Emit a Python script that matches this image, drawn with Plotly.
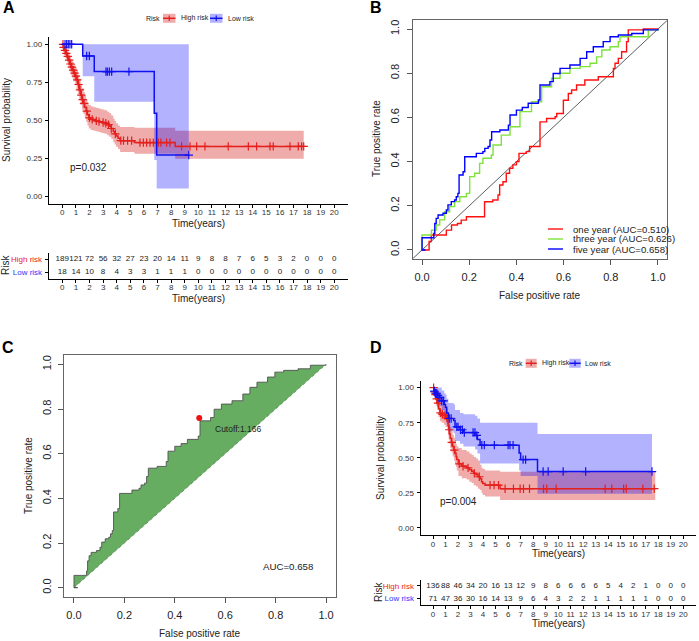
import numpy as np
import plotly.graph_objects as go

W, H = 699, 641
FONT = "Liberation Sans, Arial, sans-serif"

# ---------------- DATA ----------------
years = list(range(0, 21))

# Panel A: Kaplan-Meier (training set)
a_high_t = [0, 0.08, 0.15, 0.25, 0.35, 0.45, 0.55, 0.65, 0.75, 0.85, 0.95, 1.05, 1.15, 1.25, 1.35, 1.45,
            1.55, 1.65, 1.75, 1.85, 1.95, 2.1, 2.3, 2.5, 2.7, 2.9, 3.1, 3.3, 3.45, 3.6, 3.75, 3.85, 3.95,
            4.1, 4.25, 5.3, 8.3]
a_high_s = [1.0, 0.98, 0.96, 0.94, 0.92, 0.895, 0.87, 0.85, 0.83, 0.81, 0.79, 0.765, 0.735, 0.70, 0.665,
            0.635, 0.61, 0.585, 0.56, 0.535, 0.515, 0.505, 0.5, 0.495, 0.49, 0.485, 0.48, 0.47, 0.46,
            0.445, 0.425, 0.41, 0.395, 0.38, 0.365, 0.352, 0.327]
a_high_up = [1.0, 1.0, 0.99, 0.975, 0.96, 0.94, 0.92, 0.9, 0.885, 0.87, 0.85, 0.83, 0.8, 0.77, 0.74, 0.71,
             0.685, 0.66, 0.64, 0.615, 0.6, 0.59, 0.585, 0.58, 0.575, 0.57, 0.565, 0.555, 0.545, 0.53,
             0.51, 0.495, 0.48, 0.465, 0.455, 0.45, 0.43]
a_high_lo = [1.0, 0.96, 0.93, 0.905, 0.88, 0.85, 0.82, 0.8, 0.775, 0.755, 0.73, 0.705, 0.67, 0.635, 0.6,
             0.57, 0.54, 0.515, 0.49, 0.465, 0.445, 0.435, 0.43, 0.425, 0.42, 0.415, 0.41, 0.4, 0.39,
             0.375, 0.355, 0.34, 0.325, 0.31, 0.29, 0.278, 0.245]
a_high_end = 17.75
a_high_cens = [0.05, 0.1, 0.2, 0.3, 0.4, 0.5, 0.6, 0.7, 0.8, 0.9, 1.0, 1.1, 1.2, 1.3, 1.4, 1.5, 1.6, 1.8,
               2.0, 2.2, 2.5, 2.7, 3.0, 3.2, 3.4, 3.6, 3.9, 4.3, 4.5, 4.8, 5.1, 5.71, 5.96, 6.2, 6.45,
               6.69, 7.06, 7.25, 7.67, 7.92, 8.77, 9.39, 9.88, 10.49, 12.2, 13.68, 14.29, 15.27, 15.51,
               16.74, 17.35, 17.6, 17.75]

a_low_t = [0, 1.5, 2.35, 6.76, 6.94]
a_low_s = [1.0, 0.923, 0.82, 0.545, 0.27]
a_low_up = [1.0, 1.0, 1.0, 1.0, 1.0]
a_low_lo = [1.0, 0.79, 0.622, 0.237, 0.05]
a_low_end = 9.3
a_low_cens = [0.2, 0.32, 0.44, 0.56, 0.69, 1.79, 1.99, 3.21, 3.31, 3.46, 3.63, 4.9, 9.3]

a_risk_high = [189, 121, 72, 56, 32, 27, 23, 20, 14, 11, 9, 8, 8, 7, 6, 5, 3, 2, 0, 0, 0]
a_risk_low = [18, 14, 10, 8, 4, 3, 3, 1, 1, 1, 0, 0, 0, 0, 0, 0, 0, 0, 0, 0, 0]
a_pval = "p=0.032"

# Panel B: time-dependent ROC
roc1_fpr = [0, 0.03, 0.039, 0.103, 0.125, 0.15, 0.166, 0.188, 0.265, 0.3, 0.322, 0.329, 0.343, 0.357,
            0.371, 0.385, 0.4, 0.411, 0.442, 0.456, 0.5, 0.528, 0.564, 0.571, 0.599, 0.62, 0.634, 0.655,
            0.69, 0.747, 0.811, 0.818, 0.832, 0.846, 0.867, 0.874, 0.938, 1.0]
roc1_tpr = [0, 0.038, 0.068, 0.09, 0.113, 0.12, 0.135, 0.15, 0.218, 0.226, 0.249, 0.294, 0.309, 0.347,
            0.37, 0.385, 0.4, 0.437, 0.445, 0.468, 0.58, 0.595, 0.603, 0.618, 0.678, 0.708, 0.724, 0.747,
            0.769, 0.784, 0.822, 0.845, 0.867, 0.897, 0.943, 0.996, 1.0, 1.0]
roc3_fpr = [0, 0.0, 0.032, 0.04, 0.06, 0.075, 0.096, 0.117, 0.138, 0.16, 0.188, 0.202, 0.223, 0.244,
            0.258, 0.294, 0.301, 0.336, 0.373, 0.415, 0.464, 0.507, 0.549, 0.585, 0.627, 0.67, 0.712,
            0.74, 0.762, 0.797, 0.832, 0.839, 0.938, 0.959, 1.0]
roc3_tpr = [0, 0.068, 0.068, 0.09, 0.113, 0.136, 0.173, 0.196, 0.219, 0.241, 0.256, 0.332, 0.347, 0.392,
            0.415, 0.43, 0.475, 0.52, 0.558, 0.626, 0.671, 0.739, 0.777, 0.80, 0.822, 0.83, 0.845, 0.874,
            0.905, 0.92, 0.943, 0.965, 0.965, 0.996, 1.0]
roc5_fpr = [0, 0.015, 0.0, 0.0, 0.03, 0.05, 0.054, 0.06, 0.068, 0.089, 0.103, 0.11, 0.124, 0.138, 0.145,
            0.152, 0.157, 0.174, 0.181, 0.209, 0.23, 0.258, 0.266, 0.28, 0.288, 0.295, 0.33, 0.366, 0.373,
            0.4, 0.425, 0.45, 0.493, 0.5, 0.542, 0.556, 0.585, 0.627, 0.641, 0.67, 0.698, 0.726, 0.768,
            0.797, 0.832, 0.867, 0.889, 0.938, 0.994, 1.0]
roc5_tpr = [0, 0, 0.02, 0.055, 0.055, 0.075, 0.12, 0.143, 0.158, 0.166, 0.181, 0.204, 0.219, 0.226, 0.241,
            0.256, 0.339, 0.354, 0.422, 0.422, 0.437, 0.445, 0.46, 0.468, 0.498, 0.535, 0.543, 0.565, 0.611,
            0.633, 0.645, 0.664, 0.679, 0.747, 0.762, 0.799, 0.822, 0.837, 0.837, 0.867, 0.897, 0.92, 0.943,
            0.965, 0.973, 0.973, 0.98, 0.996, 0.996, 1.0]
roc_names = ["one year (AUC=0.510)", "three year (AUC=0.626)", "five year (AUC=0.658)"]

# Panel C
cut_fpr = [0.497]
cut_tpr = [0.76]
cut_label = "Cutoff:1.166"
c_auc_label = "AUC=0.658"

# Panel D: Kaplan-Meier (validation set)
d_high_t = [0, 0.08, 0.15, 0.25, 0.35, 0.45, 0.55, 0.7, 0.88, 1.0, 1.15, 1.2, 1.25, 1.32, 1.38, 1.47,
            1.57, 1.67, 1.76, 1.84, 1.9, 2.03, 2.3, 2.69, 2.9, 3.09, 3.25, 3.44, 3.6, 3.76, 3.88, 3.97,
            4.16, 5.36]
d_high_s = [1.0, 0.97, 0.95, 0.92, 0.89, 0.85, 0.82, 0.81, 0.80, 0.785, 0.77, 0.73, 0.70, 0.67, 0.64,
            0.61, 0.58, 0.555, 0.535, 0.51, 0.487, 0.457, 0.44, 0.428, 0.415, 0.405, 0.39, 0.38, 0.365,
            0.35, 0.33, 0.317, 0.305, 0.28]
d_high_up = [1.0, 1.0, 0.99, 0.97, 0.95, 0.92, 0.89, 0.88, 0.87, 0.86, 0.845, 0.81, 0.78, 0.75, 0.72,
             0.69, 0.665, 0.645, 0.625, 0.6, 0.58, 0.57, 0.555, 0.545, 0.53, 0.52, 0.505, 0.495, 0.48,
             0.45, 0.43, 0.42, 0.41, 0.40]
d_high_lo = [1.0, 0.94, 0.91, 0.87, 0.84, 0.79, 0.76, 0.75, 0.735, 0.72, 0.70, 0.66, 0.63, 0.60, 0.57,
             0.54, 0.51, 0.48, 0.46, 0.435, 0.41, 0.37, 0.355, 0.345, 0.33, 0.32, 0.305, 0.295, 0.28,
             0.27, 0.25, 0.235, 0.225, 0.20]
d_high_end = 17.76
d_high_cens = [0.05, 0.12, 0.2, 0.3, 0.4, 0.6, 0.75, 0.95, 1.1, 1.3, 1.5, 1.7, 2.1, 2.4, 2.8, 3.3, 3.7,
               4.56, 4.88, 5.23, 5.76, 6.43, 6.96, 7.23, 7.71, 8.83, 9.09, 9.84, 13.76, 14.29, 15.23,
               15.44, 16.77, 17.68]

d_low_t = [0, 0.08, 0.2, 0.35, 0.5, 0.7, 0.9, 1.0, 1.09, 1.23, 1.65, 1.76, 2.16, 2.43, 3.36, 3.55, 3.76,
           6.88, 7.0, 8.35]
d_low_s = [1.0, 0.975, 0.96, 0.945, 0.93, 0.905, 0.88, 0.86, 0.82, 0.78, 0.765, 0.72, 0.70, 0.68, 0.66,
           0.63, 0.59, 0.535, 0.487, 0.402]
d_low_up = [1.0, 1.0, 1.0, 1.0, 1.0, 0.98, 0.96, 0.95, 0.92, 0.89, 0.88, 0.84, 0.82, 0.81, 0.80, 0.78,
            0.75, 0.75, 0.75, 0.67]
d_low_lo = [1.0, 0.93, 0.91, 0.89, 0.87, 0.84, 0.81, 0.78, 0.74, 0.69, 0.675, 0.62, 0.60, 0.58, 0.56,
            0.53, 0.46, 0.41, 0.37, 0.244]
d_low_end = 17.5
d_low_cens = [0.1, 0.2, 0.3, 0.4, 0.55, 0.7, 0.85, 1.3, 1.45, 1.9, 2.0, 2.2, 2.35, 2.5, 3.2, 3.35, 3.5,
              3.9, 4.1, 4.9, 6.0, 6.15, 6.4, 7.2, 7.4, 8.8, 9.2, 10.4, 12.2, 17.5]

d_risk_high = [136, 88, 46, 34, 20, 16, 13, 12, 9, 8, 6, 6, 6, 6, 5, 4, 2, 1, 0, 0, 0]
d_risk_low = [71, 47, 36, 30, 16, 14, 13, 9, 6, 4, 3, 2, 2, 1, 1, 1, 1, 1, 0, 0, 0]
d_pval = "p=0.004"

# ---------------- STYLE ----------------
RED = "#e41f1c"
BLUE = "#1010f0"
RED_BAND = "rgba(215,35,35,0.38)"
BLUE_BAND = "rgba(0,0,255,0.30)"
GREEN_ROC = "#7ee23a"
C_FILL = "#66ad62"


def px(x):
    return x / W


def py(y):
    return 1 - y / H


fig = go.Figure()


def km_group(xa, ya, t, s, up, lo, end, cens, color, band):
    tx = list(t) + [end]
    fig.add_trace(go.Scatter(x=tx, y=list(lo) + [lo[-1]], mode="lines", line=dict(width=0, shape="hv"),
                             xaxis=xa, yaxis=ya, showlegend=False, hoverinfo="skip"))
    fig.add_trace(go.Scatter(x=tx, y=list(up) + [up[-1]], mode="lines", line=dict(width=0, shape="hv"),
                             fill="tonexty", fillcolor=band, xaxis=xa, yaxis=ya, showlegend=False,
                             hoverinfo="skip"))


def km_line(xa, ya, t, s, end, cens, color):
    tx = list(t) + [end]
    fig.add_trace(go.Scatter(x=tx, y=list(s) + [s[-1]], mode="lines", line=dict(width=1.5, shape="hv", color=color),
                             xaxis=xa, yaxis=ya, showlegend=False))
    ta = np.array(t)
    idx = np.searchsorted(ta, np.array(cens), side="right") - 1
    cy = [s[i] for i in idx]
    fig.add_trace(go.Scatter(x=cens, y=cy, mode="markers", xaxis=xa, yaxis=ya, showlegend=False,
                             marker=dict(symbol="cross-thin", size=6, line=dict(color=color, width=1.2))))


# Panel A
km_group("x", "y", a_high_t, a_high_s, a_high_up, a_high_lo, a_high_end, a_high_cens, RED, RED_BAND)
km_group("x", "y", a_low_t, a_low_s, a_low_up, a_low_lo, a_low_end, a_low_cens, BLUE, BLUE_BAND)
km_line("x", "y", a_high_t, a_high_s, a_high_end, a_high_cens, RED)
km_line("x", "y", a_low_t, a_low_s, a_low_end, a_low_cens, BLUE)
fig.add_trace(go.Scatter(x=years + years, y=[2] * 21 + [1] * 21, text=[str(v) for v in a_risk_high + a_risk_low],
                         mode="text", textfont=dict(size=8, color="#222", family=FONT), xaxis="x2", yaxis="y2",
                         showlegend=False))

# Panel D
km_group("x5", "y5", d_high_t, d_high_s, d_high_up, d_high_lo, d_high_end, d_high_cens, RED, RED_BAND)
km_group("x5", "y5", d_low_t, d_low_s, d_low_up, d_low_lo, d_low_end, d_low_cens, BLUE, BLUE_BAND)
km_line("x5", "y5", d_high_t, d_high_s, d_high_end, d_high_cens, RED)
km_line("x5", "y5", d_low_t, d_low_s, d_low_end, d_low_cens, BLUE)
fig.add_trace(go.Scatter(x=years + years, y=[2] * 21 + [1] * 21, text=[str(v) for v in d_risk_high + d_risk_low],
                         mode="text", textfont=dict(size=8, color="#222", family=FONT), xaxis="x6", yaxis="y6",
                         showlegend=False))

# Panel B
ROC_LIM = [-0.04, 1.04]
fig.add_trace(go.Scatter(x=ROC_LIM, y=ROC_LIM, mode="lines", line=dict(color="#333", width=0.8),
                         xaxis="x3", yaxis="y3", showlegend=False))
for fx, ty, col in [(roc1_fpr, roc1_tpr, "#ff1010"), (roc3_fpr, roc3_tpr, GREEN_ROC), (roc5_fpr, roc5_tpr, "#0000ff")]:
    fig.add_trace(go.Scatter(x=fx, y=ty, mode="lines", line=dict(color=col, width=1.4, shape="hv"),
                             xaxis="x3", yaxis="y3", showlegend=False))


# Panel C: expand step curve to explicit vertices, then close along the diagonal
def hv_vertices(xs, ys):
    vx, vy = [xs[0]], [ys[0]]
    for i in range(1, len(xs)):
        vx += [xs[i], xs[i]]
        vy += [ys[i - 1], ys[i]]
    return vx, vy


cvx, cvy = hv_vertices(roc5_fpr, roc5_tpr)
fig.add_trace(go.Scatter(x=cvx + [cvx[0]], y=cvy + [cvy[0]], mode="lines", fill="toself", fillcolor=C_FILL,
                         line=dict(width=0), xaxis="x4", yaxis="y4", showlegend=False, hoverinfo="skip"))
fig.add_trace(go.Scatter(x=[0, 1], y=[0, 1], mode="lines", line=dict(color="#3d6e3a", width=0.6, dash="dot"),
                         xaxis="x4", yaxis="y4", showlegend=False))
fig.add_trace(go.Scatter(x=cvx, y=cvy, mode="lines", line=dict(color="#505050", width=0.9),
                         xaxis="x4", yaxis="y4", showlegend=False))
fig.add_trace(go.Scatter(x=cut_fpr, y=cut_tpr, mode="markers", marker=dict(color="#ee1111", size=6),
                         xaxis="x4", yaxis="y4", showlegend=False))

# ---------------- AXES ----------------
TICKC = "#333"


def km_xaxis(x0, x1, y0, y1, anchor):
    return dict(domain=[px(x0), px(x1)], range=[-1, 21], tickvals=years, ticks="outside", ticklen=3,
                tickcolor="black", showline=True, linecolor="black", linewidth=1, showgrid=False,
                zeroline=False, tickfont=dict(size=8, color=TICKC, family=FONT), anchor=anchor,
                ticklabelstandoff=-2)


def km_yaxis(y0, y1, anchor):
    return dict(domain=[py(y1), py(y0)], range=[-0.05, 1.05], tickvals=[0, 0.25, 0.5, 0.75, 1.0],
                ticktext=["0.00", "0.25", "0.50", "0.75", "1.00"], ticks="outside", ticklen=3, tickcolor="black",
                showline=True, linecolor="black", linewidth=1, showgrid=False, zeroline=False,
                tickfont=dict(size=8, color=TICKC, family=FONT), anchor=anchor, ticklabelstandoff=1)


def rt_yaxis(y0, y1, anchor):
    return dict(domain=[py(y1), py(y0)], range=[0.5, 2.5], tickvals=[1, 2],
                ticktext=['<span style="color:#3333ff">Low risk</span>', '<span style="color:#ee2222">High risk</span>'],
                ticks="outside", ticklen=3, tickcolor="black", showline=True, linecolor="black", linewidth=1,
                showgrid=False, zeroline=False, tickfont=dict(size=8, family=FONT), anchor=anchor,
                ticklabelstandoff=1)


def roc_axis(a0, a1, anchor, is_y):
    d = dict(range=ROC_LIM, tickvals=[0, 0.2, 0.4, 0.6, 0.8, 1.0],
             ticktext=["0.0", "0.2", "0.4", "0.6", "0.8", "1.0"], ticks="outside", ticklen=5,
             tickcolor="#555", showline=True, mirror=True, linecolor="#666", linewidth=1, showgrid=False,
             zeroline=False, tickfont=dict(size=11, color="#222", family=FONT), anchor=anchor,
             ticklabelstandoff=3)
    if is_y:
        d["domain"] = [py(a1), py(a0)]
        d["tickangle"] = -90
    else:
        d["domain"] = [px(a0), px(a1)]
    return d


A_X0, A_X1 = 48.7, 347.9
D_X0, D_X1 = 420.5, 695.8

fig.update_layout(
    xaxis=km_xaxis(A_X0, A_X1, 36.7, 203.6, "y"),
    yaxis=km_yaxis(36.7, 203.6, "x"),
    xaxis2=km_xaxis(A_X0, A_X1, 252.5, 278.5, "y2"),
    yaxis2=rt_yaxis(252.5, 278.5, "x2"),
    xaxis3=roc_axis(412.6, 667.4, "y3", False),
    yaxis3=roc_axis(20.2, 258.8, "x3", True),
    xaxis4=roc_axis(63.9, 336.1, "y4", False),
    yaxis4=roc_axis(355.4, 596.6, "x4", True),
    xaxis5=km_xaxis(D_X0, D_X1, 380.6, 535, "y5"),
    yaxis5=km_yaxis(380.6, 535, "x5"),
    xaxis6=km_xaxis(D_X0, D_X1, 579.6, 605, "y6"),
    yaxis6=rt_yaxis(579.6, 605, "x6"),
)

# ---------------- ANNOTATIONS & SHAPES ----------------
ann = []
shapes = []


def txt(s, x, y, size, xanchor="center", angle=0, bold=False, color="#222"):
    ann.append(dict(text=("<b>%s</b>" % s) if bold else s, x=px(x), y=py(y), xref="paper", yref="paper",
                    showarrow=False, xanchor=xanchor, yanchor="middle", textangle=angle,
                    font=dict(size=size, color=color, family=FONT)))


# panel letters
txt("A", 8.5, 8, 16, bold=True, color="black")
txt("B", 376, 8, 16, bold=True, color="black")
txt("C", 7.5, 347, 16, bold=True, color="black")
txt("D", 376, 347, 16, bold=True, color="black")

# axis titles
txt("Survival probability", 6, 120, 10, angle=-90)
txt("Time(years)", (A_X0 + A_X1) / 2, 223, 10)
txt("Risk", 6, 265, 10, angle=-90)
txt("Time(years)", (A_X0 + A_X1) / 2, 298, 10)
txt("False positive rate", 540, 295, 10)
txt("True positive rate", 377, 139, 10, angle=-90)
txt("False positive rate", 200, 633, 10)
txt("True positive rate", 28, 476, 10, angle=-90)
txt("Survival probability", 380, 458, 10, angle=-90)
txt("Time(years)", (D_X0 + D_X1) / 2, 553, 10)
txt("Risk", 378, 592, 10, angle=-90)
txt("Time(years)", (D_X0 + D_X1) / 2, 623, 10)


# KM legends
def km_legend(rx, sw1, t1, sw2, t2, yc):
    txt("Risk", rx, yc, 7)
    for (a, b), col, band, label, tx in [(sw1, RED, RED_BAND, "High risk", t1), (sw2, BLUE, BLUE_BAND, "Low risk", t2)]:
        shapes.append(dict(type="rect", xref="paper", yref="paper", x0=px(a), x1=px(b), y0=py(yc + 4.5),
                           y1=py(yc - 4.5), fillcolor=band, line=dict(width=0)))
        shapes.append(dict(type="line", xref="paper", yref="paper", x0=px(a), x1=px(b), y0=py(yc), y1=py(yc),
                           line=dict(color=col, width=1.5)))
        m = (a + b) / 2
        shapes.append(dict(type="line", xref="paper", yref="paper", x0=px(m), x1=px(m), y0=py(yc - 2.8),
                           y1=py(yc + 2.8), line=dict(color=col, width=1.2)))
        txt(label, tx, yc, 7, xanchor="left")


km_legend(152.5, (163, 175.5), 179, (210, 222.5), 225.5, 18.3)
km_legend(515.8, (525.7, 536.7), 540, (569.3, 580.7), 583.3, 363.3)

# p-values
ann.append(dict(text=a_pval, x=0.44, y=0.19, xref="x", yref="y", showarrow=False, xanchor="left",
                yanchor="middle", font=dict(size=10, color="#222", family=FONT)))
ann.append(dict(text=d_pval, x=0.37, y=0.19, xref="x5", yref="y5", showarrow=False, xanchor="left",
                yanchor="middle", font=dict(size=10, color="#222", family=FONT)))

# ROC legend (panel B)
for i, (name, col) in enumerate(zip(roc_names, ["#ff1010", GREEN_ROC, "#0000ff"])):
    yc = 229 + 10 * i
    shapes.append(dict(type="line", xref="paper", yref="paper", x0=px(548), x1=px(563), y0=py(yc), y1=py(yc),
                       line=dict(color=col, width=1.4)))
    txt(name, 571, yc, 9.6, xanchor="left")

# Panel C texts
ann.append(dict(text=cut_label, x=0.553, y=0.71, xref="x4", yref="y4", showarrow=False, xanchor="left",
                yanchor="middle", font=dict(size=8.5, color="#222", family=FONT)))
ann.append(dict(text=c_auc_label, x=0.85, y=0.095, xref="x4", yref="y4", showarrow=False, xanchor="center",
                yanchor="middle", font=dict(size=9.7, color="#222", family=FONT)))

fig.update_layout(annotations=ann, shapes=shapes, width=W, height=H, margin=dict(l=0, r=0, t=0, b=0),
                  plot_bgcolor="white", paper_bgcolor="white", showlegend=False,
                  font=dict(family=FONT))

fig.write_html("out.html", config={"displayModeBar": False},
               post_script="document.body.style.margin='0px';document.body.style.overflow='hidden';")
